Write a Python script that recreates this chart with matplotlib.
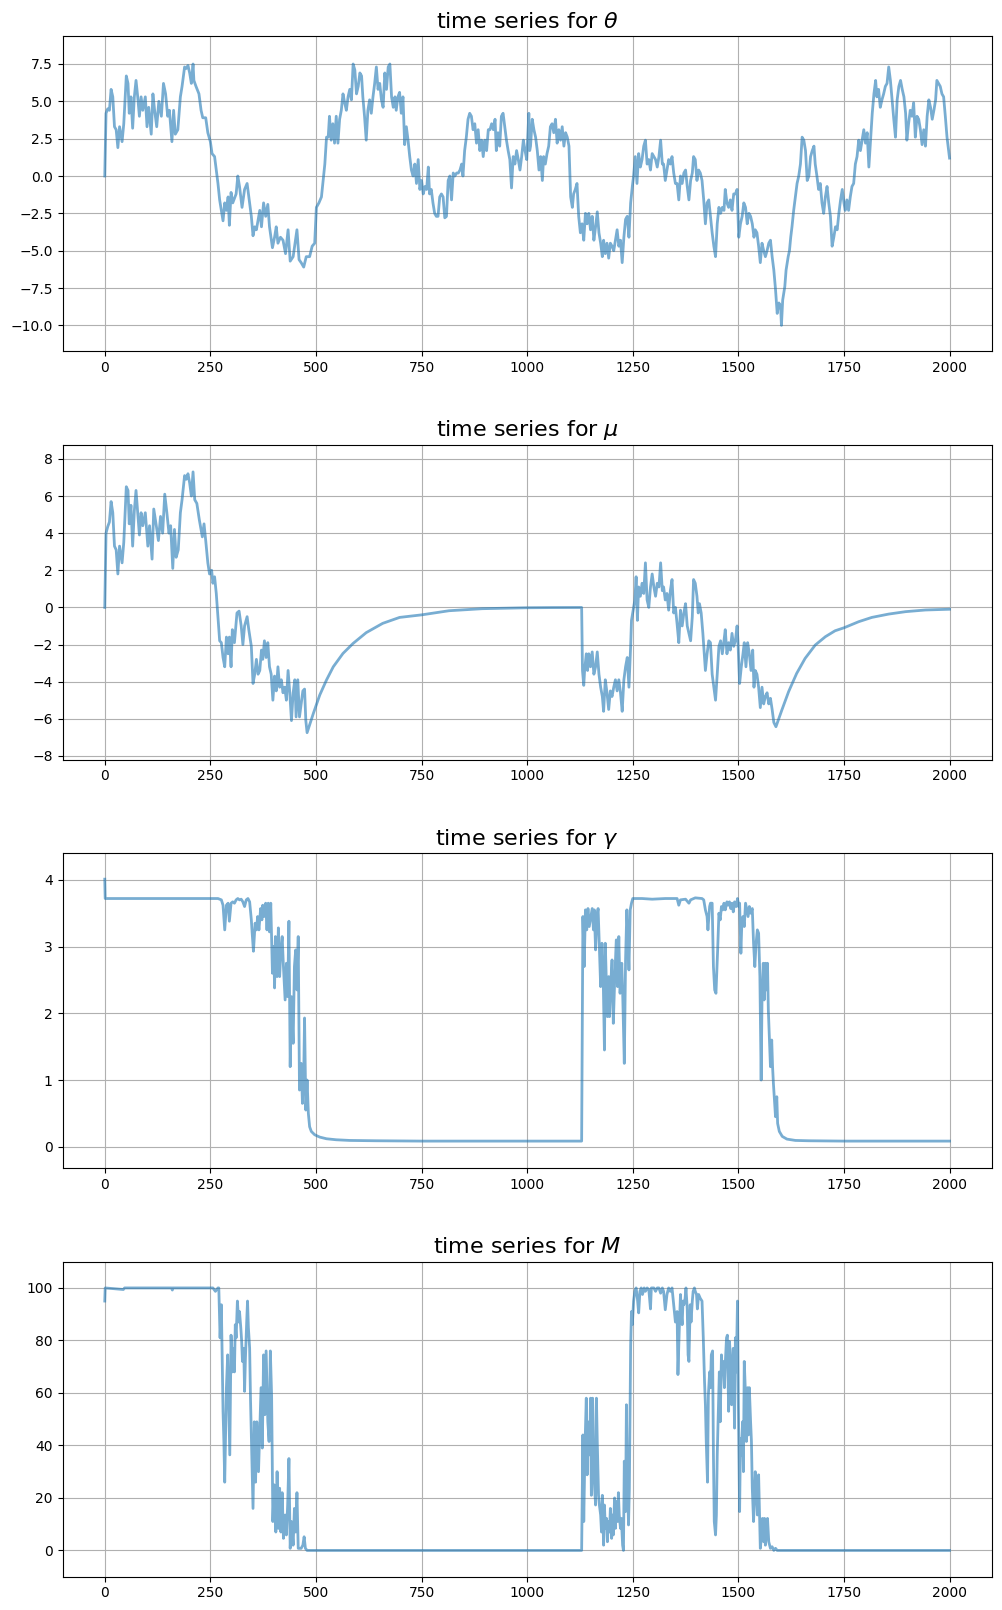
import matplotlib
matplotlib.use("Agg")
import matplotlib.pyplot as plt

# values (t = step, v = value)
theta_t = [
    0, 3, 7, 11, 15, 19, 23, 27, 31, 35,
    41, 45, 51, 55, 58, 62, 66, 70, 74, 78,
    82, 86, 90, 96, 100, 104, 110, 114, 118, 123,
    128, 134, 139, 144, 149, 153, 159, 163, 167, 173,
    179, 183, 189, 193, 197, 201, 205, 209, 211, 216,
    223, 228, 232, 239, 244, 250, 254, 260, 264, 268,
    272, 276, 280, 284, 288, 292, 295, 299, 303, 311,
    315, 319, 325, 331, 337, 341, 347, 351, 355, 359,
    367, 371, 376, 381, 386, 390, 397, 402, 406, 410,
    416, 422, 428, 434, 439, 446, 450, 455, 460, 465,
    471, 477, 485, 491, 497, 501, 507, 513, 517, 521,
    525, 529, 532, 536, 540, 544, 548, 552, 556, 560,
    564, 568, 572, 576, 580, 584, 588, 592, 596, 600,
    604, 608, 611, 615, 619, 623, 627, 631, 635, 639,
    643, 647, 651, 655, 659, 663, 667, 671, 675, 679,
    683, 687, 690, 694, 698, 702, 706, 710, 714, 718,
    722, 726, 730, 734, 738, 742, 746, 750, 754, 758,
    762, 766, 769, 773, 777, 781, 785, 789, 793, 797,
    801, 805, 809, 813, 817, 821, 825, 829, 833, 837,
    841, 845, 848, 852, 856, 860, 864, 868, 872, 876,
    880, 884, 888, 892, 896, 900, 904, 908, 912, 916,
    920, 924, 927, 931, 935, 939, 943, 947, 951, 955,
    959, 963, 967, 971, 975, 979, 983, 987, 991, 995,
    999, 1004,
    1006, 1008, 1012, 1016, 1020, 1024, 1028, 1032, 1036, 1039,
    1043, 1047, 1051, 1055, 1059, 1063, 1067, 1071, 1075, 1079,
    1083, 1087, 1091, 1095, 1099, 1103, 1107, 1110, 1114, 1118,
    1122, 1126, 1130, 1134, 1138, 1142, 1146, 1150, 1154, 1158,
    1162, 1166, 1170, 1174, 1178, 1181, 1185, 1189, 1193, 1197,
    1201, 1205, 1209, 1213, 1217, 1221, 1225, 1229, 1233, 1237,
    1241, 1245, 1249, 1252, 1256, 1260, 1264, 1268, 1272, 1276,
    1280, 1284, 1288, 1292, 1296, 1300, 1304, 1308, 1312, 1316,
    1320, 1323, 1327, 1331, 1335, 1339, 1343, 1347, 1351, 1355,
    1359, 1363, 1367, 1371, 1375, 1379, 1383, 1387, 1391, 1394,
    1398, 1402, 1406, 1410, 1414, 1418, 1422, 1426, 1430, 1434,
    1438, 1442, 1446, 1450, 1454, 1458, 1462, 1466, 1469, 1473,
    1477, 1481, 1485, 1489, 1493, 1497, 1501, 1505, 1509, 1513,
    1517, 1521, 1525, 1529, 1533, 1537, 1540, 1544, 1548, 1552,
    1556, 1560, 1564, 1568, 1572, 1576, 1580, 1584, 1588, 1592,
    1596, 1600, 1602, 1605, 1610, 1613, 1618, 1621, 1624, 1627,
    1631, 1635, 1639, 1643, 1647, 1651, 1655, 1659, 1663, 1667,
    1671, 1675, 1679, 1682, 1686, 1690, 1694, 1698, 1702, 1706,
    1710, 1714, 1718, 1722, 1726, 1730, 1734, 1738, 1742, 1746,
    1750, 1753, 1757, 1761, 1765, 1769, 1773, 1777, 1781, 1785,
    1789, 1793, 1797, 1801, 1805, 1809, 1813, 1817, 1821, 1825,
    1828, 1832, 1836, 1840, 1844, 1848, 1852, 1856, 1860, 1864,
    1868, 1872, 1876, 1880, 1884, 1888, 1892, 1896, 1899, 1903,
    1907, 1911, 1915, 1919, 1923, 1927, 1931, 1935, 1939, 1943,
    1947, 1951, 1955, 1959, 1963, 1967, 1970, 1974, 1978, 1982,
    1986, 1990, 1994, 2000,
]
theta_v = [
    0.0, 4.2, 4.5, 4.4, 5.8, 5.3, 3.3, 3.1, 1.9, 3.3,
    2.3, 3.5, 6.7, 6.2, 4.2, 5.3, 3.2, 5.3, 6.4, 5.3,
    4.0, 5.3, 4.4, 5.3, 3.3, 4.6, 2.8, 5.5, 4.4, 3.3,
    5.0, 4.0, 6.2, 5.5, 4.0, 4.4, 2.3, 4.4, 2.8, 3.1,
    5.3, 6.0, 7.3, 7.2, 7.4, 6.9, 6.2, 7.5, 6.4, 6.0,
    5.5, 4.4, 3.9, 3.9, 2.9, 2.3, 1.5, 1.3, 0.4, -0.5,
    -1.6, -2.3, -3.0, -1.8, -2.3, -1.4, -3.3, -1.1, -1.8, -1.2,
    0.0, -0.7, -2.1, -0.9, -0.5, -1.4, -2.7, -4.0, -3.4, -3.6,
    -2.3, -3.4, -1.8, -2.7, -1.9, -3.4, -4.8, -4.1, -3.4, -4.5,
    -4.1, -4.3, -5.2, -3.6, -5.7, -5.4, -4.6, -3.6, -5.6, -5.8,
    -6.1, -5.4, -5.4, -4.7, -4.5, -2.1, -1.8, -1.4, -0.3, 0.8,
    2.6, 2.6, 4.0, 2.4, 3.5, 2.2, 4.0, 2.2, 3.8, 4.4,
    5.5, 4.9, 4.4, 5.3, 5.8, 5.1, 7.5, 7.1, 5.5, 6.0,
    6.9, 6.7, 5.3, 4.0, 2.4, 4.4, 5.1, 4.2, 5.3, 6.2,
    7.3, 5.8, 6.2, 5.1, 4.6, 6.9, 5.8, 7.3, 7.5, 5.3,
    4.6, 5.3, 4.4, 5.3, 5.6, 4.2, 5.3, 2.1, 3.3, 2.4,
    1.3, 0.4, 0.0, 0.8, -0.5, 1.1, -0.9, -0.3, -1.2, -0.7,
    -0.9, 0.6, -1.2, -0.9, -1.8, -2.5, -2.7, -2.7, -1.4, -1.2,
    -1.4, -2.8, -2.7, -0.3, 0.0, -1.6, 0.2, 0.0, 0.2, 0.2,
    0.4, 0.8, 0.0, 1.7, 2.6, 3.8, 4.2, 4.0, 3.1, 3.5,
    2.2, 3.1, 1.7, 2.4, 1.3, 2.4, 1.7, 3.1, 3.1, 3.5,
    3.1, 3.8, 1.7, 2.9, 2.0, 4.0, 4.2, 3.3, 2.4, 1.7,
    1.1, -0.8, 1.3, 0.8, 1.7, 1.1, 0.4, 1.3, 2.4, 1.7,
    1.1, 4.2,
    1.7, 2.0, 3.8, 3.1, 2.6, 1.7, 0.4, 1.3, -0.3, 1.3,
    0.8, 1.5, 2.0, 3.3, 3.5, 2.9, 3.8, 2.2, 3.1, 2.4,
    3.3, 2.0, 2.9, 2.6, 2.0, -1.4, -2.1, -1.2, -0.9, -0.5,
    -2.7, -3.8, -3.2, -4.3, -2.5, -3.2, -2.5, -3.6, -2.7, -4.3,
    -3.4, -2.4, -3.8, -4.5, -5.4, -4.3, -5.2, -4.5, -5.5, -4.5,
    -4.7, -5.0, -4.3, -3.6, -4.7, -4.3, -5.8, -4.1, -2.9, -2.7,
    -4.1, -1.8, -0.7, 0.0, 1.3, -0.5, 1.5, 0.6, 1.1, 2.0,
    2.4, 0.8, 1.1, 0.4, 1.5, 1.3, 1.1, 0.6, 1.3, 2.4,
    0.8, 0.8, -0.3, 0.4, 1.1, 0.8, 1.3, 0.2, -0.5, -0.5,
    -1.6, 0.0, -0.5, 0.2, 0.4, -0.7, -1.6, -0.3, 0.2, 1.3,
    1.1, -0.3, 0.4, 0.2, -0.3, -1.6, -3.2, -1.8, -1.6, -2.7,
    -3.8, -4.7, -5.4, -3.2, -2.1, -2.5, -2.1, -2.3, -0.9, -1.8,
    -2.1, -1.6, -2.3, -1.2, -1.2, -0.9, -4.1, -3.2, -2.7, -1.8,
    -2.1, -3.2, -2.5, -2.7, -3.2, -4.1, -3.6, -3.8, -4.7, -5.8,
    -4.5, -5.0, -5.4, -5.0, -4.5, -4.3, -5.4, -6.3, -7.6, -9.2,
    -8.5, -8.7, -10.0, -8.3, -7.4, -6.3, -5.4, -5.0, -4.1, -3.4,
    -2.3, -1.4, -0.5, 0.0, 0.8, 2.6, 2.4, 1.7, -0.3, 0.0,
    1.3, 1.7, 2.0, 0.8, 0.0, -0.9, -0.5, -1.8, -2.5, -1.4,
    -0.7, -1.8, -2.7, -4.7, -4.1, -3.4, -3.6, -2.5, -1.6, -0.9,
    -1.8, -2.3, -1.6, -2.3, -1.4, -0.7, -0.5, 0.8, 1.3, 2.4,
    1.7, 2.4, 3.1, 2.2, 2.9, 0.6, 2.4, 4.2, 5.5, 6.4,
    5.3, 5.8, 4.6, 5.1, 5.5, 6.0, 6.2, 7.3, 6.4, 5.1,
    3.8, 2.6, 5.1, 6.0, 6.4, 5.8, 5.3, 4.2, 2.4, 3.5,
    4.4, 4.0, 4.9, 2.6, 4.0, 3.8, 3.1, 2.1, 3.1, 2.0,
    4.0, 5.1, 4.6, 3.8, 4.4, 5.1, 6.4, 6.2, 6.0, 5.5,
    5.3, 4.0, 2.6, 1.2,
]

mu_t = [
    0, 3, 7, 11, 15, 19, 23, 27, 31, 35,
    41, 45, 51, 55, 58, 62, 66, 70, 74, 78,
    82, 86, 90, 96, 102, 106, 112, 116, 122, 127,
    132, 137, 142, 147, 152, 156, 161, 165, 169, 174,
    179, 183, 189, 193, 197, 201, 205, 209, 213, 218,
    224, 231, 235, 239, 244, 248, 253, 256, 260, 264,
    268, 272, 276, 280, 284, 288, 292, 295, 299, 302,
    307, 313, 318, 323, 327, 331, 337, 341, 347, 351,
    355, 359, 363, 367, 371, 374, 378, 382, 386, 390,
    394, 398, 402, 406, 410, 414, 418, 422, 426, 430,
    434, 438, 442, 446, 450, 453, 457, 461, 465, 469,
    473, 476, 479, 494, 509, 525, 541, 564, 588, 619,
    658, 698, 751, 815, 894, 1000, 1060, 1129,
    1131, 1134, 1136, 1140, 1143, 1146, 1150, 1154, 1158,
    1162, 1166, 1170, 1174, 1178, 1181, 1185, 1189, 1193, 1197,
    1201, 1205, 1209, 1213, 1217, 1221, 1225, 1229, 1233, 1237,
    1241, 1245, 1247, 1250, 1255, 1258, 1261, 1264, 1268, 1272,
    1276, 1280, 1284, 1288, 1292, 1296, 1300, 1304, 1308, 1312,
    1316, 1320, 1323, 1327, 1331, 1335, 1339, 1343, 1347, 1351,
    1355, 1359, 1363, 1367, 1371, 1375, 1379, 1383, 1387, 1391,
    1394, 1398, 1402, 1405, 1408, 1412, 1416, 1420, 1422, 1426,
    1430, 1434, 1438, 1442, 1446, 1450, 1454, 1458, 1462, 1466,
    1469, 1473, 1477, 1481, 1485, 1489, 1493, 1497, 1499, 1503,
    1507, 1511, 1514, 1518, 1522, 1526, 1530, 1534, 1537, 1540,
    1544, 1548, 1552, 1556, 1560, 1564, 1568, 1572, 1576, 1580,
    1584, 1589, 1603, 1619, 1638, 1658, 1682, 1706, 1729, 1750,
    1785, 1816, 1856, 1896, 1943, 2000,
]
mu_v = [
    0.0, 4.0, 4.35, 4.6, 5.7, 5.1, 3.3, 3.1, 1.8, 3.3,
    2.4, 3.5, 6.5, 6.3, 4.5, 5.5, 3.3, 5.2, 6.3, 5.1,
    3.9, 5.1, 4.4, 5.1, 3.3, 4.4, 2.6, 5.3, 4.4, 3.6,
    4.9, 4.0, 6.1, 5.1, 4.0, 4.4, 2.1, 4.2, 2.7, 3.1,
    5.1, 5.8, 7.1, 6.9, 7.2, 6.7, 6.0, 7.3, 5.8, 5.6,
    4.7, 3.8, 4.5, 3.6, 2.4, 1.8, 2.0, 1.3, 1.65, 0.75,
    -0.5, -1.8, -1.9, -2.7, -3.2, -1.6, -2.5, -1.6, -3.2, -1.2,
    -1.9, -0.3, -0.2, -1.0, -2.0, -1.0, -0.5, -1.2, -2.1, -4.1,
    -3.6, -2.8, -3.6, -3.4, -2.3, -2.8, -1.8, -2.7, -1.9, -3.2,
    -3.6, -5.0, -3.7, -4.5, -3.2, -4.3, -3.9, -4.6, -4.3, -5.0,
    -3.4, -4.6, -6.1, -4.6, -3.9, -5.9, -3.9, -5.9, -5.2, -4.5,
    -4.4, -6.1, -6.75, -5.7, -4.72, -3.91, -3.2, -2.48, -1.94, -1.36,
    -0.86, -0.54, -0.4, -0.18, -0.07, -0.02, -0.01, -0.005,
    -3.4, -4.2, -3.4, -2.5, -3.4, -2.5, -3.2, -2.4, -3.6,
    -3.2, -2.4, -3.6, -4.3, -4.8, -5.6, -3.9, -4.6, -5.5, -4.5,
    -4.8, -4.3, -3.9, -4.5, -3.9, -4.6, -5.6, -3.9, -3.2, -2.7,
    -4.3, -2.1, -0.7, -0.3, 0.4, 1.65, -0.7, 1.1, 0.6, 1.3,
    0.75, 2.4, 0.4, 0.0, 1.1, 1.8, 1.1, 0.6, 1.3, 1.1,
    2.4, 0.9, 1.1, 0.4, 0.75, -0.15, 0.9, 1.5, -0.3, 0.0,
    -0.9, -1.9, -0.15, -1.0, -0.3, 0.2, -1.0, -1.4, -1.8, -0.5,
    1.5, 1.3, 0.6, -0.3, 0.2, -0.3, -1.4, -2.7, -3.4, -2.5,
    -1.8, -1.9, -3.6, -4.3, -5.0, -3.6, -2.1, -1.8, -2.5, -1.8,
    -1.2, -2.5, -1.9, -2.3, -1.4, -2.1, -1.8, -1.0, -1.8, -4.1,
    -3.2, -2.5, -1.9, -3.2, -1.9, -2.5, -3.4, -2.3, -4.3, -3.4,
    -3.6, -4.3, -5.4, -4.3, -5.2, -4.8, -4.6, -5.2, -4.9, -5.5,
    -6.2, -6.43, -5.53, -4.54, -3.56, -2.75, -2.03, -1.58, -1.26, -1.1,
    -0.77, -0.54, -0.36, -0.23, -0.14, -0.1,
]

gamma_t = [
    0, 1, 268, 272, 276, 280, 284, 288, 292, 295,
    299, 303, 307, 311, 315, 319, 323, 327, 331, 335,
    339, 343, 347, 349, 352, 356, 359, 362, 365, 369,
    372, 374, 377, 381, 384, 387, 390, 393, 397, 400,
    402, 404, 408, 411, 414, 417, 420, 423, 427, 430,
    433, 436, 439, 442, 446, 449, 452, 455, 458, 461,
    465, 468, 471, 473, 476, 479, 482, 485, 489, 497,
    509, 525, 548, 580, 643, 751, 1004, 1129, 1132, 1135,
    1138, 1141, 1144, 1147, 1151, 1154, 1157, 1159, 1162, 1165,
    1168, 1171, 1174, 1177, 1180, 1183, 1185, 1188, 1190, 1193,
    1195, 1198, 1201, 1204, 1207, 1211, 1214, 1217, 1220, 1224,
    1226, 1230, 1233, 1236, 1239, 1241, 1244, 1247, 1250, 1272,
    1296, 1327, 1343, 1355, 1359, 1363, 1375, 1383, 1387, 1398,
    1414, 1418, 1422, 1426, 1428, 1432, 1434, 1438, 1441, 1444,
    1447, 1451, 1454, 1457, 1460, 1463, 1466, 1469, 1473, 1476,
    1479, 1482, 1485, 1488, 1491, 1495, 1498, 1501, 1503, 1506,
    1508, 1511, 1514, 1517, 1520, 1523, 1526, 1529, 1533, 1536,
    1539, 1542, 1545, 1548, 1551, 1554, 1556, 1559, 1561, 1564,
    1566, 1569, 1571, 1574, 1576, 1579, 1581, 1583, 1586, 1588,
    1591, 1593, 1597, 1604, 1615, 1635, 1667, 1750, 2000,
]
gamma_v = [
    4.01, 3.72, 3.72, 3.71, 3.70, 3.62, 3.25, 3.62, 3.65, 3.38,
    3.65, 3.67, 3.65, 3.70, 3.72, 3.70, 3.71, 3.67, 3.60, 3.70,
    3.72, 3.67, 3.40, 3.20, 2.93, 3.35, 3.25, 3.45, 3.25, 3.57,
    3.40, 3.62, 3.45, 3.65, 3.25, 3.65, 3.22, 3.65, 2.60, 3.00,
    2.38, 3.15, 2.55, 3.28, 2.55, 2.95, 3.15, 2.70, 2.20, 2.75,
    2.25, 3.38, 1.20, 2.25, 1.55, 2.70, 2.95, 2.35, 3.15, 0.85,
    1.25, 0.65, 1.05, 1.93, 0.55, 1.00, 0.50, 0.30, 0.23, 0.18,
    0.145, 0.12, 0.105, 0.095, 0.09, 0.085, 0.085, 0.085, 3.45, 2.70,
    3.55, 3.25, 3.57, 3.30, 3.45, 3.57, 3.25, 3.55, 2.95, 3.45,
    3.57, 3.00, 2.40, 3.05, 2.55, 1.45, 3.05, 2.35, 1.95, 2.55,
    1.95, 2.45, 2.80, 1.85, 2.45, 3.10, 2.40, 3.15, 2.30, 2.75,
    2.35, 1.25, 2.80, 3.55, 3.05, 2.65, 3.55, 3.65, 3.72, 3.72,
    3.71, 3.72, 3.72, 3.72, 3.62, 3.70, 3.71, 3.65, 3.70, 3.73,
    3.72, 3.70, 3.55, 3.45, 3.25, 3.60, 3.65, 3.65, 2.70, 2.35,
    2.30, 2.95, 3.50, 3.40, 3.60, 3.55, 3.65, 3.55, 3.67, 3.62,
    3.67, 3.57, 3.65, 3.52, 3.67, 3.60, 3.72, 3.60, 3.65, 2.90,
    3.30, 3.45, 3.30, 3.65, 3.55, 3.45, 3.60, 3.50, 3.57, 3.05,
    2.70, 3.05, 3.25, 3.20, 2.55, 1.00, 2.20, 2.75, 2.20, 2.75,
    2.35, 2.75, 2.05, 1.55, 1.20, 1.60, 1.20, 0.95, 0.65, 0.45,
    0.75, 0.35, 0.23, 0.155, 0.115, 0.095, 0.09, 0.085, 0.085,
]

M_t = [
    0, 1, 44, 47, 158, 160, 161, 256, 262, 268,
    270, 273, 276, 280, 282, 284, 288, 291, 294, 296,
    299, 302, 304, 307, 309, 311, 314, 317, 319, 322,
    324, 326, 329, 331, 333, 336, 338, 340, 343, 345,
    348, 351, 354, 357, 360, 364, 367, 370, 373, 376,
    379, 382, 386, 389, 392, 395, 398, 401, 405, 408,
    411, 414, 417, 420, 423, 427, 430, 433, 436, 439,
    442, 446, 449, 452, 455, 458, 461, 465, 469, 472,
    475, 479, 1129, 1132, 1134, 1137, 1140, 1142, 1144, 1148,
    1150, 1152, 1155, 1157, 1159, 1162, 1164, 1166, 1169, 1171,
    1174, 1176, 1178, 1181, 1183, 1185, 1188, 1190, 1192, 1195,
    1197, 1200, 1202, 1204, 1207, 1209, 1211, 1214, 1216, 1218,
    1221, 1223, 1226, 1228, 1230, 1233, 1235, 1237, 1240, 1242,
    1245, 1247, 1249, 1252, 1255, 1258, 1261, 1264, 1267, 1270,
    1273, 1277, 1280, 1284, 1288, 1292, 1294, 1300, 1304, 1308,
    1312, 1316, 1320, 1323, 1327, 1331, 1335, 1339, 1343, 1347,
    1351, 1355, 1357, 1360, 1363, 1365, 1367, 1369, 1371, 1374,
    1376, 1379, 1381, 1383, 1386, 1388, 1391, 1393, 1396, 1398,
    1401, 1403, 1406, 1410, 1414, 1417, 1420, 1422, 1424, 1427,
    1429, 1432, 1434, 1436, 1439, 1441, 1443, 1446, 1448, 1450,
    1453, 1455, 1457, 1460, 1462, 1464, 1467, 1469, 1472, 1474,
    1477, 1479, 1481, 1484, 1486, 1488, 1491, 1493, 1495, 1498,
    1500, 1503, 1505, 1507, 1510, 1512, 1514, 1517, 1519, 1522,
    1524, 1526, 1529, 1531, 1533, 1536, 1538, 1540, 1543, 1545,
    1548, 1550, 1552, 1555, 1557, 1560, 1562, 1564, 1567, 1569,
    1572, 1574, 1576, 1580, 1584, 1588, 1592, 2000,
]
M_v = [
    95, 100, 99.4, 100, 100, 99.2, 100, 100, 98.7, 100,
    100, 81, 93.6, 53, 41.5, 26, 62, 74.5, 51.7, 36.4,
    82, 68, 77, 68, 86, 81, 95, 87, 91, 85,
    80, 72, 77, 60.6, 73, 87, 95, 85, 77, 58,
    36.4, 16, 49, 26, 49, 30, 46.6, 62, 39, 74.5,
    51.7, 76, 49, 41.5, 76, 59, 11, 25, 7, 30,
    8.4, 23.7, 7, 22, 4.6, 13.5, 5.9, 17.3, 35, 0.8,
    11, 2, 16, 7, 22, 0.8, 0.8, 0.8, 2, 5.2,
    0.8, 0, 0, 44, 11, 40, 58, 28.8, 49, 36.4,
    58, 21, 58, 39, 26, 17.3, 58, 41.5, 21, 17.3,
    13.5, 7, 21, 2, 17.3, 8.4, 12.2, 3.3, 11, 7,
    16, 4.6, 13.5, 5.9, 20, 8.4, 18.6, 11, 22, 13.5,
    8.4, 12.2, 2, 0, 34, 14.8, 55.5, 28.8, 9.7, 23.7,
    78, 91, 86, 95, 98.7, 100, 96, 90.5, 98.7, 100,
    97.5, 100, 98.7, 100, 99.4, 92, 100, 100, 98.7, 100,
    100, 98, 100, 98.7, 91.7, 97.5, 100, 98.7, 100, 93.6,
    87, 91, 67, 83.5, 97.5, 89.8, 86, 95, 93.6, 96,
    100, 92, 74.5, 72, 93.6, 87, 95, 98.7, 100, 98.7,
    97.5, 92, 97.5, 96, 95, 81, 64, 55.5, 41.5, 26,
    59, 68, 62, 74.5, 76, 36.4, 11, 5.9, 13.5, 36.4,
    55.5, 68, 49, 74.5, 67, 72, 62, 71, 81, 82,
    53, 79.6, 74.5, 55.5, 64, 77, 46.6, 81, 68, 95,
    56.7, 14.8, 42.7, 36.4, 49, 30, 72, 59, 41.5, 62,
    44, 62, 49, 41.5, 23.7, 11, 20, 30, 21, 13.5,
    28.8, 14.8, 0.8, 5.9, 12.2, 3.3, 12.2, 2, 7, 12.2,
    3.3, 2, 0.8, 1.4, 0, 0.8, 0, 0,
]

panels = [
    (theta_t, theta_v, r"time series for $\theta$", (-11.72, 9.37)),
    (mu_t, mu_v, r"time series for $\mu$", (-8.2, 8.77)),
    (gamma_t, gamma_v, r"time series for $\gamma$", (-0.32, 4.40)),
    (M_t, M_v, r"time series for $M$", (-10.0, 110.0)),
]

fig, axes = plt.subplots(4, 1, figsize=(10.02, 16.1), dpi=100)
fig.subplots_adjust(left=0.0624, right=0.9898, top=0.9776, bottom=0.0207,
                    hspace=0.297)

for ax, (t, v, title, ylim) in zip(axes, panels):
    ax.plot(t, v, color="C0", alpha=0.6, lw=2)
    ax.set_title(title, fontsize=16)
    ax.set_ylim(*ylim)
    ax.grid(True)

fig.savefig("out.png", dpi=100)
